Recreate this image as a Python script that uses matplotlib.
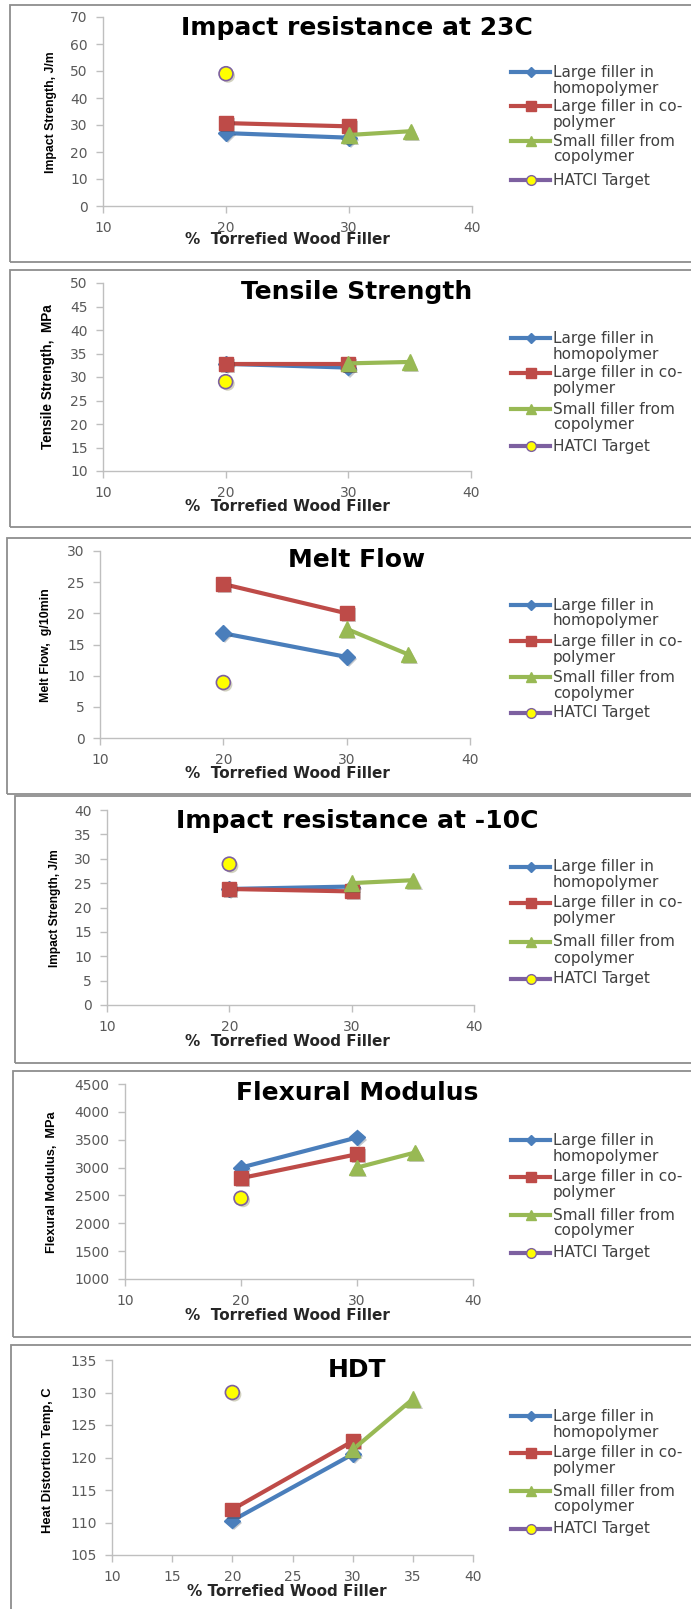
import matplotlib.pyplot as plt
import matplotlib.patheffects as pe
from matplotlib.lines import Line2D
from matplotlib.patches import Rectangle

# ---- data ----
x_homo = [20, 30]
x_co = [20, 30]
x_small = [30, 35]
x_target = [20]

impact23_homo = [27.0, 25.3]
impact23_co = [30.7, 29.5]
impact23_small = [26.3, 27.7]
impact23_target = [49]

tensile_homo = [32.8, 32.0]
tensile_co = [32.7, 32.7]
tensile_small = [32.9, 33.2]
tensile_target = [29]

melt_homo = [16.8, 13.0]
melt_co = [24.7, 20.0]
melt_small = [17.5, 13.4]
melt_target = [8.9]

impact10_homo = [23.8, 24.3]
impact10_co = [23.8, 23.3]
impact10_small = [25.0, 25.6]
impact10_target = [28.9]

flex_homo = [3000, 3540]
flex_co = [2810, 3240]
flex_small = [3000, 3270]
flex_target = [2450]

hdt_homo = [110.3, 120.5]
hdt_co = [112.0, 122.5]
hdt_small = [121.2, 129.0]
hdt_target = [130]

titles = ["Impact resistance at 23C", "Tensile Strength", "Melt Flow",
          "Impact resistance at -10C", "Flexural Modulus", "HDT"]
ylabels = ["Impact Strength, J/m", "Tensile Strength,  MPa", "Melt Flow,  g/10min",
           "Impact Strength, J/m", "Flexural Modulus,  MPa", "Heat Distortion Temp, C"]
xlabels = ["%  Torrefied Wood Filler"] * 5 + ["% Torrefied Wood Filler"]
ylims = [(0, 70, 10), (10, 50, 5), (0, 30, 5), (0, 40, 5), (1000, 4500, 500), (105, 135, 5)]
xstep = [10, 10, 10, 10, 10, 5]

series = [
    (impact23_homo, impact23_co, impact23_small, impact23_target),
    (tensile_homo, tensile_co, tensile_small, tensile_target),
    (melt_homo, melt_co, melt_small, melt_target),
    (impact10_homo, impact10_co, impact10_small, impact10_target),
    (flex_homo, flex_co, flex_small, flex_target),
    (hdt_homo, hdt_co, hdt_small, hdt_target),
]

legend_labels = [("Large filler in", "homopolymer"),
                 ("Large filler in co-", "polymer"),
                 ("Small filler from", "copolymer"),
                 ("HATCI Target", "")]

BLUE = '#4A7EBB'
RED = '#BE4B48'
GREEN = '#98B954'
PURPLE = '#7D60A0'
YELLOW = '#FFFF00'

# ---- layout in pixels (left, right, top, bottom of the plot area) ----
W, H = 691, 1609
axes_px = [(103, 472, 17, 206), (103, 471, 283, 471), (100, 470, 551, 738),
           (107, 474, 810, 1005), (125, 473, 1084, 1279), (112, 473, 1360, 1555)]
boxes_px = [(10, 5, 262), (10, 270, 527), (7, 538, 794),
            (15, 796, 1063), (13, 1071, 1337), (11, 1345, 1620)]
title_y = [28, 292, 560, 821, 1093, 1370]
ylabel_xy = [(51, 112), (48, 377), (46, 645), (55, 908), (52, 1182), (48, 1460)]
ylabel_size = [8.8, 9.8, 8.9, 8.6, 9.2, 9.3]
xlabel_y = [240, 506, 773, 1042, 1315, 1591]
legend_y = [(72, 106, 141, 180), (338, 373, 409, 446), (605, 641, 677, 713),
            (867, 903, 942, 979), (1140, 1177, 1215, 1253), (1416, 1453, 1491, 1529)]


def fx(px):
    return px / W


def fy(py):
    return 1 - py / H


shadow = [pe.SimplePatchShadow(offset=(1.5, -1.5), alpha=0.25), pe.Normal()]

fig = plt.figure(figsize=(W / 100, H / 100), dpi=100)

for i in range(6):
    # panel frame
    bl, bt, bb = boxes_px[i]
    fig.add_artist(Rectangle((fx(bl), fy(bb)), fx(720 - bl), (bb - bt) / H,
                             transform=fig.transFigure, fill=False,
                             edgecolor='#8E8E8E', linewidth=1.3))

    l, r, t, b = axes_px[i]
    ax = fig.add_axes([fx(l), fy(b), fx(r - l), (b - t) / H])
    homo, co, small, target = series[i]
    ax.plot(x_homo, homo, color=BLUE, lw=3, marker='D', ms=8, zorder=3, path_effects=shadow)
    ax.plot(x_co, co, color=RED, lw=3, marker='s', ms=10, zorder=4, path_effects=shadow)
    ax.plot(x_small, small, color=GREEN, lw=3, marker='^', ms=11, zorder=5, path_effects=shadow)
    ax.plot(x_target, target, linestyle='none', marker='o', ms=10,
            markerfacecolor=YELLOW, markeredgecolor=PURPLE, markeredgewidth=1.2,
            zorder=6, path_effects=shadow)

    y0, y1, ys = ylims[i]
    ax.set_ylim(y0, y1)
    ax.set_yticks(range(y0, y1 + 1, ys))
    ax.set_xlim(10, 40)
    ax.set_xticks(range(10, 41, xstep[i]))
    for s in ['top', 'right']:
        ax.spines[s].set_visible(False)
    for s in ['left', 'bottom']:
        ax.spines[s].set_color('#BFBFBF')
        ax.spines[s].set_linewidth(1.0)
    ax.tick_params(direction='out', length=5, width=1, color='#BFBFBF',
                   labelcolor='#595959', labelsize=10, pad=6)
    ax.patch.set_alpha(0)

    fig.text(fx(357), fy(title_y[i]), titles[i], ha='center', va='center',
             fontsize=18, fontweight='bold', color='black')
    lx, ly = ylabel_xy[i]
    fig.text(fx(lx), fy(ly), ylabels[i], rotation=90, ha='center', va='center',
             fontsize=ylabel_size[i], fontweight='bold', family='Liberation Sans')
    fig.text(fx(287), fy(xlabel_y[i]), xlabels[i], ha='center', va='center',
             fontsize=11, fontweight='bold', color='#262626')

    # legend
    styles = [(BLUE, 'D', 5, BLUE, BLUE), (RED, 's', 7, RED, RED),
              (GREEN, '^', 7, GREEN, GREEN), (PURPLE, 'o', 7, YELLOW, PURPLE)]
    for (c, m, ms, mfc, mec), yy, (t1, t2) in zip(styles, legend_y[i], legend_labels):
        fig.add_artist(Line2D([fx(511), fx(550)], [fy(yy), fy(yy)], color=c, lw=3,
                              transform=fig.transFigure))
        fig.add_artist(Line2D([fx(530.5)], [fy(yy)], marker=m, ms=ms, linestyle='none',
                              markerfacecolor=mfc, markeredgecolor=mec,
                              transform=fig.transFigure))
        fig.text(fx(553), fy(yy), t1, ha='left', va='center', fontsize=11, color='#404040')
        if t2:
            fig.text(fx(553), fy(yy + 16), t2, ha='left', va='center', fontsize=11, color='#404040')

fig.savefig('out.png', dpi=100)
